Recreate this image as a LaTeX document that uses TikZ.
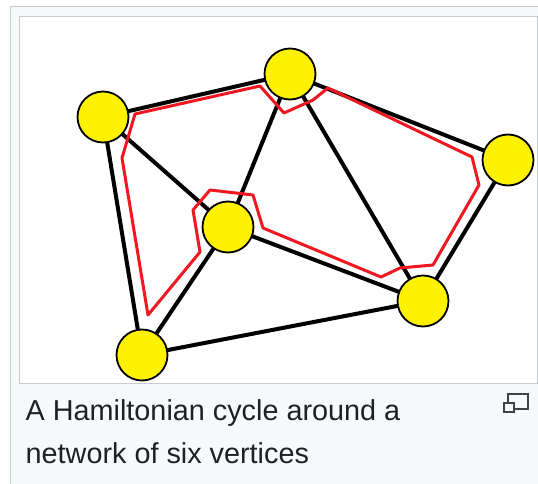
\documentclass[tikz,border=0pt]{standalone}
\usepackage{fontspec}
\setmainfont{Liberation Sans}
\definecolor{framegray}{HTML}{F8F9FA}
\definecolor{framerule}{HTML}{C8CCD1}
\definecolor{vertexyellow}{RGB}{255, 242, 0}
\definecolor{cyclered}{RGB}{240, 24, 32}
\definecolor{captiontext}{HTML}{202122}
\definecolor{icongray}{HTML}{404244}
\pgfdeclarelayer{frame}
\pgfdeclarelayer{edges}
\pgfsetlayers{frame,edges,main}

\begin{document}
\begin{tikzpicture}[x=1pt, y=-1pt,
      vtx/.style={circle, draw=black, line width=1.8pt, fill=vertexyellow,
                  minimum size=51pt, inner sep=0pt},
      edg/.style={draw=black, line width=4pt},
      cyc/.style={draw=cyclered, line width=3pt, line join=round},
      captxt/.style={font=\fontsize{28.8}{43}\selectfont, text=captiontext,
                  inner sep=0pt, anchor=base west},
      icon/.style={draw=icongray, line width=2pt},
    ]
    \useasboundingbox (0,0) rectangle (538,484);
    %% thumbnail frame and white image box
    \begin{pgfonlayer}{frame}
      \draw[framerule, fill=framegray] (10,6) rectangle (548,494);
      \draw[framerule, fill=white] (19.5,16.5) rectangle (537.5,383);
    \end{pgfonlayer}
    %% six vertices
    \foreach \n/\x/\y in {1/103/117, 2/290/74, 3/508/160,
                          4/423/301, 5/228/227, 6/142/355}{
      \node[vtx] (v\n) at (\x,\y) {};
    }
    \begin{pgfonlayer}{edges}
      %% edges of the network
      \foreach \a/\b in {1/2, 2/3, 1/6, 1/5, 2/5, 2/4, 3/4, 5/6, 5/4, 6/4}{
        \draw[edg] (v\a.center) -- (v\b.center);
      }
      %% hamiltonian cycle v1-v2-v3-v4-v5-v6
      \draw[cyc] (135,114) -- (260,86) -- (284,113) -- (313,100)
        -- (328,88) -- (472,157) -- (479,185) -- (433,265)
        -- (400,268) -- (381,277) -- (263,228) -- (253,195)
        -- (210,190) -- (193,210) -- (200,252) -- (148,315)
        -- (122,158) -- cycle;
    \end{pgfonlayer}
    %% caption
    \node[captxt] (cap1) at (25.5,420) {A Hamiltonian cycle around a};
    \node[captxt] (cap2) at (25.5,463) {network of six vertices};
    %% enlarge icon
    \draw[icon] (508.3,394) rectangle (528.3,409);
    \draw[icon, fill=framegray] (504.3,402.7) rectangle (514,411.7);
\end{tikzpicture}
\end{document}
